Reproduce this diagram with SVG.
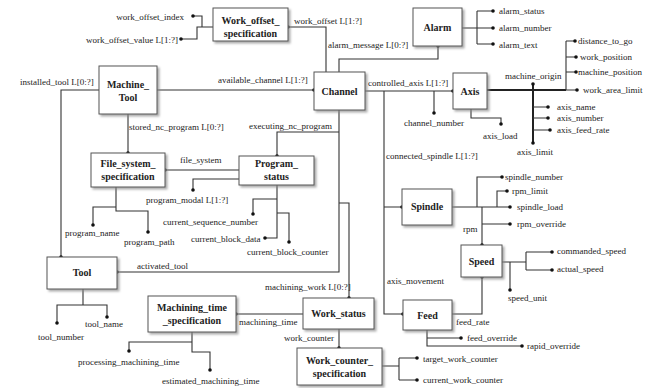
<svg xmlns="http://www.w3.org/2000/svg" width="656" height="388" viewBox="0 0 656 388">
<style>
.bx{fill:#fff;stroke:#555;stroke-width:1;filter:url(#sh)}
.bt{font-family:"Liberation Serif","Times New Roman",serif;font-weight:bold;font-size:10px;text-anchor:middle;fill:#222}
.lb{font-family:"Liberation Serif","Times New Roman",serif;font-size:9px;fill:#222}
.ln{fill:none;stroke:#333;stroke-width:1.1}
.th{fill:none;stroke:#222;stroke-width:2}
.dt{fill:#111}
</style>
<defs>
<filter id="sh" x="-20%" y="-20%" width="140%" height="140%">
<feDropShadow dx="2" dy="2" stdDeviation="1" flood-color="#888" flood-opacity="0.7"/>
</filter>
</defs>
<rect width="656" height="388" fill="#fff"/>
<g id="connectors">
<path class="ln" d="M193,16 H202 V27 M181,39 H197 V27 H213"/>
<path class="ln" d="M288,27 H326 V72"/>
<path class="ln" d="M438,46 V59 H339 V72"/>
<path class="ln" d="M462,28 H477 M477,11 V44 M477,11 H493 M477,28 H493 M477,44 H493"/>
<path class="ln" d="M157,90 H314"/>
<path class="ln" d="M99,90 H61 V257"/>
<path class="ln" d="M128,114 V153"/>
<path class="ln" d="M339,110 V203 M339,132 H277 V156"/>
<path class="ln" d="M339,203 V272 H117"/>
<path class="ln" d="M339,203 H349 V298"/>
<path class="ln" d="M365,91 H453 M434,91 V113"/>
<path class="ln" d="M384,91 V314 H403 M384,207 H402"/>
<path class="ln" d="M471,109 V118 H501 V124"/>
<path class="th" d="M487,90 H566"/>
<path class="ln" d="M566,90 H577 M566,41 V90 M566,41 H575 M566,57 H576 M566,72 H576"/>
<path class="th" d="M533,84 V143"/>
<path class="ln" d="M533,107 H548 M533,118 H548 M533,130 H550"/>
<path class="ln" d="M165,170 H239"/>
<path class="ln" d="M239,179 H193 V190"/>
<path class="ln" d="M277,185 V238 H265 M277,199 H253 V214 M277,213 H289 V242"/>
<path class="ln" d="M116,187 V211 H148 V232 M116,207 H93 V225"/>
<path class="ln" d="M452,207 H510 M477,207 V177 H502 M497,207 V191 H507 M482,207 V245 M482,224 H510"/>
<path class="ln" d="M502,262 H526 M526,252 V270 M526,252 H552 M526,270 H552 M510,262 V290"/>
<path class="ln" d="M482,277 V314 H452"/>
<path class="ln" d="M427,330 V346 H522 M427,338 H461"/>
<path class="ln" d="M236,314 H303"/>
<path class="ln" d="M192,332 V352 H210 V370 M192,342 H129 V351"/>
<path class="ln" d="M339,329 V348"/>
<path class="ln" d="M382,366 H399 M399,358 V380 M399,358 H417 M399,380 H417"/>
<path class="ln" d="M83,289 V305 H57 V323 M83,305 H107 V317"/>
<g class="dt">
<circle cx="193" cy="16" r="1.8"/><circle cx="181" cy="39" r="1.8"/>
<circle cx="288" cy="27" r="1.8"/><circle cx="438" cy="46" r="1.8"/>
<circle cx="493" cy="11" r="1.8"/><circle cx="493" cy="28" r="1.8"/><circle cx="493" cy="44" r="1.8"/>
<circle cx="314" cy="90" r="1.8"/><circle cx="61" cy="257" r="1.8"/><circle cx="128" cy="153" r="1.8"/>
<circle cx="277" cy="156" r="1.8"/><circle cx="117" cy="272" r="1.8"/><circle cx="349" cy="298" r="1.8"/>
<circle cx="453" cy="91" r="1.8"/><circle cx="434" cy="113" r="1.8"/>
<circle cx="402" cy="207" r="1.8"/><circle cx="403" cy="314" r="1.8"/><circle cx="501" cy="124" r="1.8"/>
<circle cx="575" cy="41" r="1.8"/><circle cx="576" cy="57" r="1.8"/><circle cx="576" cy="72" r="1.8"/><circle cx="577" cy="90" r="1.8"/>
<circle cx="533" cy="84" r="1.8"/><circle cx="533" cy="143" r="1.8"/>
<circle cx="548" cy="107" r="1.8"/><circle cx="548" cy="118" r="1.8"/><circle cx="550" cy="130" r="1.8"/>
<circle cx="165" cy="170" r="1.8"/><circle cx="193" cy="190" r="1.8"/>
<circle cx="265" cy="238" r="1.8"/><circle cx="253" cy="214" r="1.8"/><circle cx="289" cy="242" r="1.8"/>
<circle cx="148" cy="232" r="1.8"/><circle cx="93" cy="225" r="1.8"/>
<circle cx="510" cy="207" r="1.8"/><circle cx="502" cy="177" r="1.8"/><circle cx="507" cy="191" r="1.8"/><circle cx="510" cy="224" r="1.8"/><circle cx="482" cy="245" r="1.8"/>
<circle cx="552" cy="252" r="1.8"/><circle cx="552" cy="270" r="1.8"/><circle cx="510" cy="290" r="1.8"/>
<circle cx="482" cy="277" r="1.8"/><circle cx="461" cy="338" r="1.8"/><circle cx="522" cy="346" r="1.8"/>
<circle cx="236" cy="314" r="1.8"/><circle cx="210" cy="370" r="1.8"/><circle cx="129" cy="351" r="1.8"/>
<circle cx="339" cy="348" r="1.8"/><circle cx="417" cy="358" r="1.8"/><circle cx="417" cy="380" r="1.8"/>
<circle cx="57" cy="323" r="1.8"/><circle cx="107" cy="317" r="1.8"/>
</g>
<g class="lb">
<text x="184" y="20" text-anchor="end">work_offset_index</text>
<text x="178" y="43" text-anchor="end">work_offset_value L[1:?]</text>
<text x="294" y="24">work_offset  L[1:?]</text>
<text x="328" y="48">alarm_message  L[0:?]</text>
<text x="499" y="14">alarm_status</text>
<text x="499" y="31">alarm_number</text>
<text x="499" y="48">alarm_text</text>
<text x="20" y="85">installed_tool  L[0:?]</text>
<text x="218" y="83">available_channel  L[1:?]</text>
<text x="368" y="86">controlled_axis  L[1:?]</text>
<text x="505" y="79">machine_origin</text>
<text x="578" y="44">distance_to_go</text>
<text x="580" y="60">work_position</text>
<text x="578" y="75">machine_position</text>
<text x="583" y="93">work_area_limit</text>
<text x="557" y="110">axis_name</text>
<text x="557" y="121">axis_number</text>
<text x="557" y="133">axis_feed_rate</text>
<text x="517" y="155">axis_limit</text>
<text x="483" y="139">axis_load</text>
<text x="404" y="126">channel_number</text>
<text x="129" y="130">stored_nc_program  L[0:?]</text>
<text x="249" y="129">executing_nc_program</text>
<text x="386" y="159">connected_spindle L[1:?]</text>
<text x="180" y="163">file_system</text>
<text x="146" y="203">program_modal L[1:?]</text>
<text x="163" y="225">current_sequence_number</text>
<text x="191" y="242">current_block_data</text>
<text x="247" y="255">current_block_counter</text>
<text x="65" y="236">program_name</text>
<text x="124" y="245">program_path</text>
<text x="505" y="180">spindle_number</text>
<text x="512" y="194">rpm_limit</text>
<text x="517" y="210">spindle_load</text>
<text x="517" y="227">rpm_override</text>
<text x="463" y="232">rpm</text>
<text x="557" y="254">commanded_speed</text>
<text x="557" y="272">actual_speed</text>
<text x="508" y="301">speed_unit</text>
<text x="137" y="269">activated_tool</text>
<text x="265" y="290">machining_work  L[0:?]</text>
<text x="387" y="284">axis_movement</text>
<text x="456" y="325">feed_rate</text>
<text x="467" y="341">feed_override</text>
<text x="527" y="349">rapid_override</text>
<text x="239" y="325">machining_time</text>
<text x="284" y="341">work_counter</text>
<text x="423" y="362">target_work_counter</text>
<text x="423" y="383">current_work_counter</text>
<text x="38" y="340">tool_number</text>
<text x="85" y="327">tool_name</text>
<text x="78" y="365">processing_machining_time</text>
<text x="162" y="384">estimated_machining_time</text>
</g>
</g>
<g id="work_offset_specification"><rect class="bx" x="213" y="8" width="75" height="33"/><text class="bt" x="250.5" y="24">Work_offset_</text><text class="bt" x="250.5" y="37">specification</text></g>
<g id="alarm"><rect class="bx" x="413" y="8" width="49" height="38"/><text class="bt" x="437.5" y="31">Alarm</text></g>
<g id="machine_tool"><rect class="bx" x="99" y="66" width="58" height="48"/><text class="bt" x="128" y="88">Machine_</text><text class="bt" x="128" y="101">Tool</text></g>
<g id="channel"><rect class="bx" x="314" y="72" width="51" height="38"/><text class="bt" x="339.5" y="95">Channel</text></g>
<g id="axis"><rect class="bx" x="453" y="73" width="34" height="36"/><text class="bt" x="470" y="95">Axis</text></g>
<g id="file_system_specification"><rect class="bx" x="91" y="153" width="74" height="34"/><text class="bt" x="128" y="167">File_system_</text><text class="bt" x="128" y="180">specification</text></g>
<g id="program_status"><rect class="bx" x="239" y="156" width="75" height="29"/><text class="bt" x="276.5" y="167">Program_</text><text class="bt" x="276.5" y="180">status</text></g>
<g id="spindle"><rect class="bx" x="402" y="189" width="50" height="36"/><text class="bt" x="427" y="210">Spindle</text></g>
<g id="speed"><rect class="bx" x="461" y="245" width="41" height="32"/><text class="bt" x="481.5" y="265">Speed</text></g>
<g id="feed"><rect class="bx" x="403" y="300" width="49" height="30"/><text class="bt" x="427.5" y="319">Feed</text></g>
<g id="tool"><rect class="bx" x="47" y="257" width="70" height="32"/><text class="bt" x="82" y="276">Tool</text></g>
<g id="machining_time_specification"><rect class="bx" x="148" y="296" width="88" height="36"/><text class="bt" x="192" y="311">Machining_time</text><text class="bt" x="192" y="324">_specification</text></g>
<g id="work_status"><rect class="bx" x="303" y="298" width="71" height="31"/><text class="bt" x="338.5" y="317">Work_status</text></g>
<g id="work_counter_specification"><rect class="bx" x="297" y="348" width="85" height="37"/><text class="bt" x="339.5" y="364">Work_counter_</text><text class="bt" x="339.5" y="377">specification</text></g>
</svg>
